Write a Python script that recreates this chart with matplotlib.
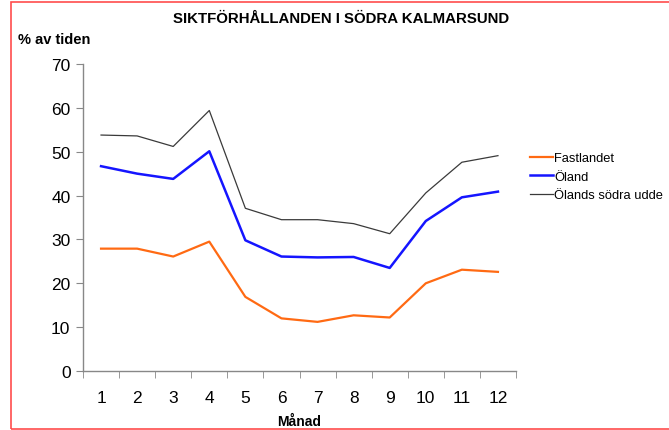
import matplotlib
matplotlib.use("Agg")
import matplotlib.pyplot as plt
from matplotlib.patches import Rectangle

plt.rcParams["font.family"] = ["Liberation Sans", "DejaVu Sans"]

months = list(range(1, 13))
fastlandet = [27.9, 27.9, 26.1, 29.5, 16.9, 12.0, 11.2, 12.7, 12.2, 20.0, 23.1, 22.6]
oland = [46.7, 45.0, 43.8, 50.1, 29.8, 26.1, 25.9, 26.0, 23.5, 34.2, 39.6, 40.9]
olands_udde = [53.8, 53.6, 51.2, 59.4, 37.1, 34.5, 34.5, 33.6, 31.3, 40.6, 47.6, 49.1]

W, H = 669, 431
fig = plt.figure(figsize=(W / 100, H / 100), dpi=100)
ax = fig.add_axes([83 / W, 1 - 372 / H, (516 - 83) / W, (372 - 65) / H])

ax.plot(months, fastlandet, color="#ff6a13", lw=1.6, label="Fastlandet")
ax.plot(months, oland, color="#1515ff", lw=1.8, label="Öland")
ax.plot(months, olands_udde, color="#3a3a3a", lw=0.9, label="Ölands södra udde")

ax.set_xlim(0.5, 12.5)
ax.set_ylim(0, 70)
ax.set_yticks(range(0, 71, 10))
ax.set_xticks(months)
ax.set_xticks([m + 0.5 for m in range(0, 13)], minor=True)
ax.tick_params(axis="x", which="major", length=0, pad=14, labelsize=12.5)
ax.tick_params(axis="x", which="minor", length=5, color="#888888", direction="out")
ax.tick_params(axis="y", length=5, color="#888888", direction="out", labelsize=12.5, pad=4)

for side in ("top", "right"):
    ax.spines[side].set_visible(False)
for side in ("left", "bottom"):
    ax.spines[side].set_color("#888888")
    ax.spines[side].set_linewidth(1.0)

ax.set_xlabel("Månad", fontsize=10, fontweight="bold", labelpad=6)
fig.text(341 / W, 1 - 19 / H, "SIKTFÖRHÅLLANDEN I SÖDRA KALMARSUND",
         ha="center", va="center", fontsize=10.8, fontweight="bold")
fig.text(18 / W, 1 - 40 / H, "% av tiden", ha="left", va="center",
         fontsize=10.5, fontweight="bold")

ax.legend(loc="upper left", bbox_to_anchor=(525 / W, 1 - 148 / H),
          bbox_transform=fig.transFigure, frameon=False, fontsize=9.3,
          handlelength=1.8, handletextpad=0.05, labelspacing=0.5, borderaxespad=0)

fig.patches.append(Rectangle((11 / W, 1 - 430 / H), 1.0, (430 - 3) / H,
                             transform=fig.transFigure, fill=False,
                             edgecolor="#ff4d4d", lw=1.2))

fig.savefig("out.png", dpi=100)
